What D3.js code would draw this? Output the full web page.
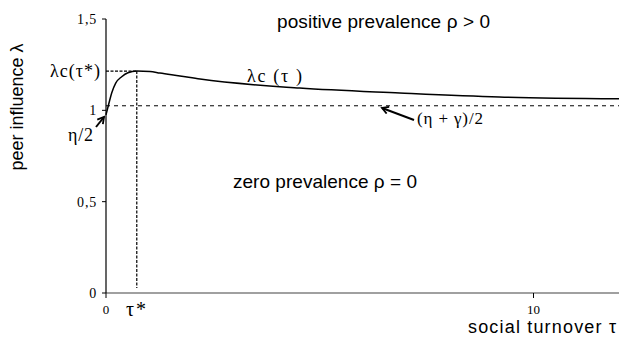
<!DOCTYPE html>
<html>
<head>
<meta charset="utf-8">
<script src="https://cdn.jsdelivr.net/npm/d3@7"></script>
<style>
  body { margin: 0; background: #fff; }
  svg { display: block; }
</style>
</head>
<body>
<div id="chart"></div>
<script>
// threshold curve lambda_c(tau)
var tau    = [0, 0.07, 0.133, 0.227, 0.367, 0.514, 0.717, 1.03, 1.26, 1.73, 2.2, 4.53, 6.87, 9.2, 12];
var lambda = [0.975, 1.04, 1.095, 1.149, 1.184, 1.206, 1.215, 1.213, 1.204, 1.188, 1.171, 1.122, 1.095, 1.073, 1.063];
var tauStar = 0.72, lambdaStar = 1.215;
var asymptote = 1.025;              // (eta + gamma)/2
var yTicks = [0, 0.5, 1, 1.5];
var yTickLabels = ["0", "0,5", "1", "1,5"];
var xTicks = [0, 10];

var SERIF = "'Liberation Serif', 'Times New Roman', serif";
var SANS  = "'Liberation Sans', Arial, Helvetica, sans-serif";

var W = 619, H = 338;
var svg = d3.select("#chart").append("svg").attr("width", W).attr("height", H);

var x = d3.scaleLinear().domain([0, 12]).range([106, 619]);
var y = d3.scaleLinear().domain([0, 1.5]).range([293, 19]);

svg.append("defs").append("marker")
    .attr("id", "head").attr("viewBox", "0 0 10 10")
    .attr("refX", 8).attr("refY", 5)
    .attr("markerWidth", 4.5).attr("markerHeight", 4.5)
    .attr("markerUnits", "strokeWidth")
    .attr("orient", "auto")
  .append("path").attr("d", "M1,1 L8,5 L1,9")
    .attr("fill", "none").attr("stroke", "#000").attr("stroke-width", 2);

// x axis (grey line)
svg.append("line").attr("x1", x(0)).attr("x2", W)
    .attr("y1", y(0)).attr("y2", y(0))
    .attr("stroke", "#808080").attr("stroke-width", 1.5);
svg.selectAll(".xt").data(xTicks).enter().append("line")
    .attr("x1", (d) => x(d)).attr("x2", (d) => x(d))
    .attr("y1", y(0)).attr("y2", y(0) + 5)
    .attr("stroke", "#000");
svg.selectAll(".xl").data(xTicks).enter().append("text")
    .attr("font-family", SERIF).attr("font-size", 13)
    .attr("x", (d) => x(d)).attr("y", 314)
    .attr("text-anchor", "middle").text((d) => d);

// y axis
svg.append("line").attr("x1", x(0)).attr("x2", x(0))
    .attr("y1", y(1.5)).attr("y2", y(0))
    .attr("stroke", "#000").attr("stroke-width", 1.2);
svg.selectAll(".yt").data(yTicks).enter().append("line")
    .attr("x1", x(0) - 4).attr("x2", x(0))
    .attr("y1", (d) => y(d)).attr("y2", (d) => y(d))
    .attr("stroke", "#000");
svg.selectAll(".yl").data(yTicks).enter().append("text")
    .attr("font-family", SERIF).attr("font-size", 14)
    .attr("letter-spacing", 0.8)
    .attr("x", x(0) - 9).attr("y", (d) => y(d) + 5)
    .attr("text-anchor", "end").text((d, i) => yTickLabels[i]);

// asymptote
svg.append("line").attr("x1", x(0)).attr("x2", W)
    .attr("y1", y(asymptote)).attr("y2", y(asymptote))
    .attr("stroke", "#000").attr("stroke-dasharray", "4,4");

// tau* guides
svg.append("line").attr("x1", x(0)).attr("x2", x(tauStar))
    .attr("y1", y(lambdaStar)).attr("y2", y(lambdaStar))
    .attr("stroke", "#000").attr("stroke-width", 1.2).attr("stroke-dasharray", "3,1.5");
svg.append("line").attr("x1", x(tauStar)).attr("x2", x(tauStar))
    .attr("y1", y(lambdaStar)).attr("y2", y(0) - 5)
    .attr("stroke", "#000").attr("stroke-width", 1.2).attr("stroke-dasharray", "3,1.5");

// curve
var line = d3.line().x((d) => x(d[0])).y((d) => y(d[1])).curve(d3.curveMonotoneX);
svg.append("path").datum(d3.zip(tau, lambda)).attr("d", line)
    .attr("fill", "none").attr("stroke", "#000").attr("stroke-width", 1.5);

// arrows
svg.append("line").attr("x1", 96).attr("y1", 127).attr("x2", 104).attr("y2", 117)
    .attr("stroke", "#000").attr("stroke-width", 2).attr("marker-end", "url(#head)");
svg.append("line").attr("x1", 414).attr("y1", 120).attr("x2", 382).attr("y2", 108)
    .attr("stroke", "#000").attr("stroke-width", 2).attr("marker-end", "url(#head)");

// annotations
function label(font, size, xx, yy, txt, len, anchor) {
    var t = svg.append("text").attr("font-family", font).attr("font-size", size)
        .attr("x", xx).attr("y", yy)
        .attr("text-anchor", anchor || "start").text(txt);
    if (len) t.attr("textLength", len).attr("lengthAdjust", "spacing");
}
label(SERIF, 18, 50, 77, "λc(τ*)", 50);
label(SERIF, 18, 68, 141, "η/2", 25);
label(SERIF, 18, 247, 82, "λc (τ )", 55);
label(SERIF, 17, 417, 124, "(η + γ)/2", 66);
label(SERIF, 20, 126, 316, "τ*", 20);
label(SANS, 19, 277, 28, "positive prevalence ρ > 0", 213);
label(SANS, 19, 233, 188, "zero prevalence ρ = 0", 184);
label(SANS, 18, 468, 333, "social turnover τ", 148);

svg.append("text").attr("font-family", SANS).attr("font-size", 18)
    .attr("transform", "translate(23,107) rotate(-90)")
    .attr("text-anchor", "middle").text("peer influence  λ");
</script>
</body>
</html>
